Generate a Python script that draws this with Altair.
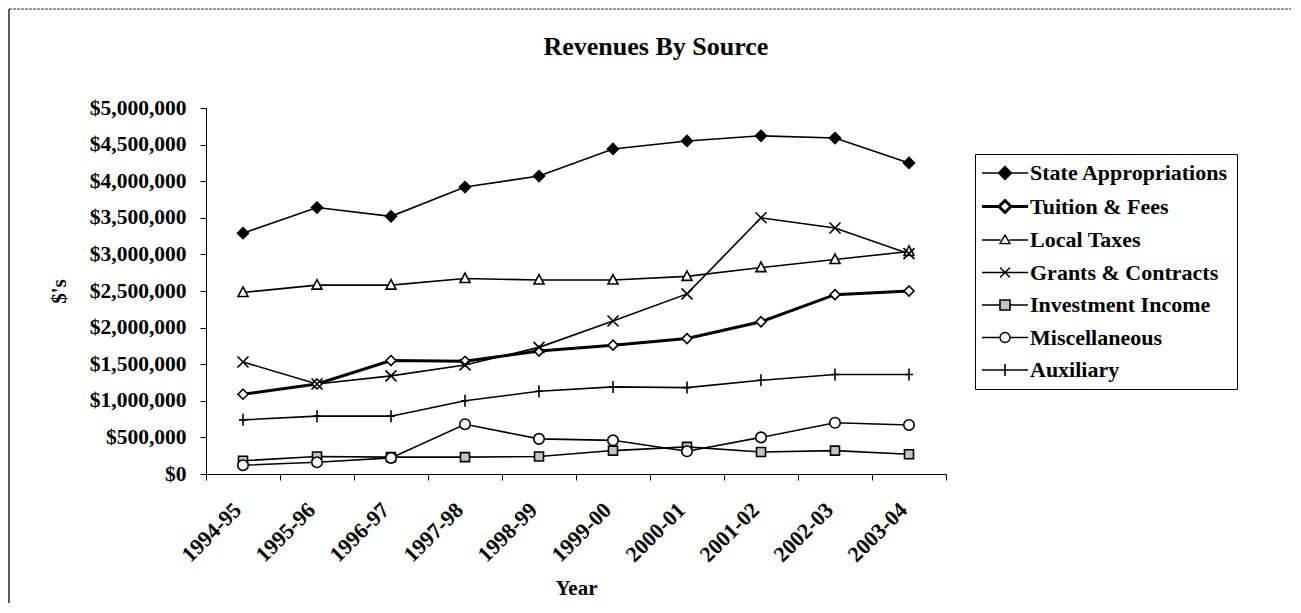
import altair as alt
import pandas as pd

years = ["1994-95", "1995-96", "1996-97", "1997-98", "1998-99",
         "1999-00", "2000-01", "2001-02", "2002-03", "2003-04"]
series_names = ["State Appropriations", "Tuition & Fees", "Local Taxes",
                "Grants & Contracts", "Investment Income", "Miscellaneous", "Auxiliary"]

state = [3290000, 3640000, 3520000, 3920000, 4070000, 4440000, 4550000, 4620000, 4590000, 4250000]
tuition = [1090000, 1230000, 1550000, 1540000, 1680000, 1760000, 1850000, 2080000, 2450000, 2500000]
local_taxes = [2480000, 2580000, 2580000, 2670000, 2650000, 2650000, 2700000, 2820000, 2930000, 3040000]
grants = [1530000, 1230000, 1340000, 1490000, 1730000, 2090000, 2460000, 3500000, 3360000, 3010000]
investment = [180000, 240000, 230000, 230000, 240000, 320000, 370000, 300000, 320000, 270000]
misc = [120000, 160000, 220000, 680000, 480000, 460000, 310000, 500000, 700000, 670000]
auxiliary = [740000, 790000, 790000, 1000000, 1130000, 1190000, 1180000, 1280000, 1360000, 1360000]

y_ticks = [0, 500000, 1000000, 1500000, 2000000, 2500000, 3000000,
           3500000, 4000000, 4500000, 5000000]

all_values = [state, tuition, local_taxes, grants, investment, misc, auxiliary]
rows = []
for name, vals in zip(series_names, all_values):
    for yr, v in zip(years, vals):
        rows.append({"year": yr, "series": name, "value": v})
df = pd.DataFrame(rows)

FONT = "Liberation Serif"

# marker shapes in plot (unit ~ sqrt(size)/2 px)
plot_paths = [
    "M0,-1.1L1.1,0L0,1.1L-1.1,0Z",
    "M0,-1L1,0L0,1L-1,0Z",
    "M0,-1.1L1,0.8L-1,0.8Z",
    "M-1.1,-1.1L1.1,1.1M-1.1,1.1L1.1,-1.1",
    "M-0.9,-0.9L0.9,-0.9L0.9,0.9L-0.9,0.9Z",
    "M1.05,0A1.05,1.05,0,1,1,-1.05,0A1.05,1.05,0,1,1,1.05,0Z",
    "M-0.8,0L0.8,0M0,-1.2L0,1.2",
]
fills = ["black", "white", "white", "white", "#c4c4c4", "white", "white"]
strokes = ["black"] * 7

# legend symbols: line segment plus marker
L = 5.75
legend_paths = [
    f"M-{L},0L-1.6,0M1.6,0L{L},0M0,-1.6L1.6,0L0,1.6L-1.6,0Z",
    f"M-{L},0L-1.5,0M1.5,0L{L},0M0,-1.5L1.5,0L0,1.5L-1.5,0Z",
    f"M-{L},0L-1.1,0M1.1,0L{L},0M0,-1.2L1.25,0.9L-1.25,0.9Z",
    f"M-{L},0L{L},0M-1.25,-1.25L1.25,1.25M-1.25,1.25L1.25,-1.25",
    f"M-{L},0L-1.25,0M1.25,0L{L},0M-1.25,-1.25L1.25,-1.25L1.25,1.25L-1.25,1.25Z",
    f"M-{L},0L-1.25,0M1.25,0L{L},0M1.25,0A1.25,1.25,0,1,1,-1.25,0A1.25,1.25,0,1,1,1.25,0Z",
    f"M-{L},0L{L},0M0,-1.5L0,1.5",
]
legend_widths = [1.6, 3.0, 1.4, 1.4, 1.6, 1.4, 1.6]

x_enc = alt.X(
    "year:N", sort=years,
    scale=alt.Scale(type="band", paddingInner=0, paddingOuter=0),
    axis=alt.Axis(title="Year", labelAngle=315, labelAlign="right", labelBaseline="middle",
                  tickBand="extent", tickSize=6, labelPadding=26, labelOffset=-6, titlePadding=12,
                  labelFontSize=22, titleFontSize=21),
)
y_enc = alt.Y(
    "value:Q",
    scale=alt.Scale(domain=[0, 5000000], nice=False),
    axis=alt.Axis(title="$'s", values=y_ticks, format="$,.0f", tickSize=6,
                  labelPadding=14, titlePadding=20, labelFontSize=21.5, titleFontSize=21),
)

legend_kw = dict(
    title=None, orient="none", legendX=769, legendY=46,
    strokeColor="black", fillColor="white", padding=8,
    labelFont=FONT, labelFontSize=22, labelFontWeight="bold", labelColor="black",
    labelLimit=400, symbolSize=64, symbolOffset=11, labelOffset=14, rowPadding=10.5,
    symbolStrokeColor="black", symbolOpacity=1,
)

base = alt.Chart(df)

thin_lines = base.transform_filter(alt.datum.series != "Tuition & Fees").mark_line(
    color="black", strokeWidth=1.6
).encode(x=x_enc, y=y_enc, detail="series:N")

thick_line = base.transform_filter(alt.datum.series == "Tuition & Fees").mark_line(
    color="black", strokeWidth=3
).encode(x=x_enc, y=y_enc)

points = base.mark_point(size=100, stroke="black", strokeWidth=1.6, opacity=1, filled=True).encode(
    x=x_enc,
    y=y_enc,
    shape=alt.Shape("series:N", scale=alt.Scale(domain=series_names, range=plot_paths), legend=None),
    fill=alt.Fill("series:N", scale=alt.Scale(domain=series_names, range=fills), legend=None),
)

legend_layer = base.transform_filter("false").mark_point(
    size=64, filled=True, opacity=1
).encode(
    x=x_enc,
    y=y_enc,
    shape=alt.Shape("series:N", scale=alt.Scale(domain=series_names, range=legend_paths),
                    legend=alt.Legend(**legend_kw)),
    fill=alt.Fill("series:N", scale=alt.Scale(domain=series_names, range=fills),
                  legend=alt.Legend(**legend_kw)),
    stroke=alt.Stroke("series:N", scale=alt.Scale(domain=series_names, range=strokes),
                      legend=alt.Legend(**legend_kw)),
    strokeWidth=alt.StrokeWidth("series:N",
                                scale=alt.Scale(type="ordinal", domain=series_names, range=legend_widths),
                                legend=alt.Legend(**legend_kw)),
)

frame_data = pd.DataFrame({"f": [0]})
frame_top = alt.Chart(frame_data).mark_rule(color="#333333", strokeWidth=1.2, strokeDash=[3, 1]).encode(
    x=alt.value(-197), x2=alt.value(1085), y=alt.value(-99)
)
frame_left = alt.Chart(frame_data).mark_rule(color="#222222", strokeWidth=1.5).encode(
    x=alt.value(-197), y=alt.value(-99), y2=alt.value(495)
)

chart = alt.layer(frame_top, frame_left, thin_lines, thick_line, points, legend_layer).resolve_scale(
    shape="independent", fill="independent", strokeWidth="independent", stroke="independent"
).properties(
    width=740, height=366, padding=0, background="white",
    title=alt.TitleParams(text="Revenues By Source", font=FONT, fontSize=26, fontWeight="bold",
                          color="black", anchor="middle", frame="bounds", baseline="alphabetic",
                          offset=-73, dx=6),
).configure_axis(
    grid=False, labelFont=FONT, titleFont=FONT, labelFontWeight="bold", titleFontWeight="bold",
    labelColor="black", titleColor="black", domainColor="black", tickColor="black",
).configure_view(strokeWidth=0)

chart.save("out.html", embed_options={"renderer": "svg", "actions": False})
